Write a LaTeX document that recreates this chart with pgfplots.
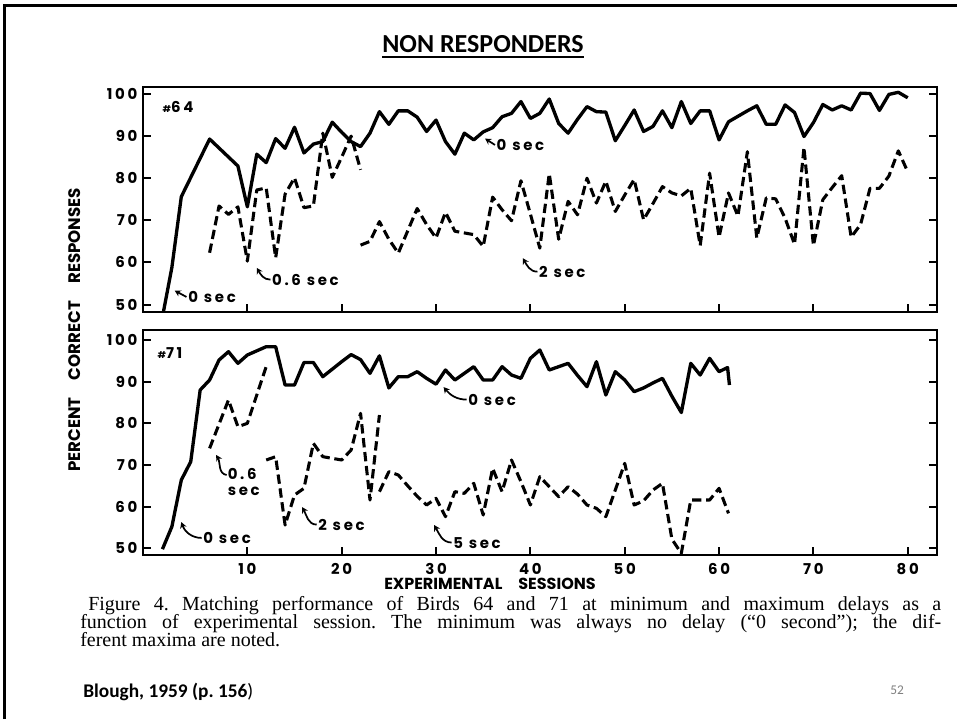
\documentclass[border=0pt]{standalone}
\usepackage{fontspec}
\usepackage{pgfplots}
\pgfplotsset{compat=1.18}
\usetikzlibrary{arrows.meta}
\setmainfont{Liberation Serif}
\newfontfamily\calibri{Carlito}
\newfontfamily\lab{Poppins}[LetterSpace=18]
\newfontfamily\labn{Poppins}
\newcommand\labf{\lab\bfseries\fontsize{11.2}{12}\selectfont}
\frenchspacing

\tikzset{
  lbl/.style={font=\labf, inner sep=0pt},
  arr/.style={line width=1.3pt, -{Stealth[length=4.5pt,width=5pt]}},
}
\pgfplotsset{
  panel/.style={
    scale only axis, width=595.5pt, height=168.75pt,
    xmin=-1.06, xmax=83.1,
    axis line style={line width=1.5pt},
    tick align=inside, major tick length=6pt,
    major tick style={black, line width=1.5pt},
    xtick={10,20,30,40,50,60,70,80}, ytick={50,60,70,80,90,100},
    yticklabels={50,60,70,80,90,100},
    xtick pos=bottom,
    yticklabel style={font=\labf, anchor=east, inner sep=0pt, xshift=-4pt},
    xticklabel style={font=\labf, anchor=north, inner sep=0pt, yshift=-6pt},
    clip=true,
  },
  solidline/.style={black, line width=2.5pt, line join=round, mark=none},
  dashline/.style={black, line width=2.3pt, line join=round, mark=none, dash pattern=on 7pt off 3.5pt},
}

\begin{document}
\begin{tikzpicture}
\path[use as bounding box] (0,0) rectangle (717.75pt,-539.25pt);
\fill[white] (0,0) rectangle (717.75pt,-539.25pt);
\begin{scope}[x=0.75pt,y=-0.75pt]
  \draw[line width=2.25pt] (4,719) -- (4,5) -- (957,5);
  % title
  \node[anchor=base, inner sep=0pt, font=\calibri\bfseries\fontsize{19.5}{22}\selectfont] (T) at (483,52.5) {NON RESPONDERS};
  \draw[line width=1.5pt] ([yshift=-3pt]T.base west) -- ([yshift=-3pt]T.base east);
  % axis labels
  \node[rotate=90, inner sep=0pt, font=\labn\bfseries\fontsize{12.5}{14}\selectfont] at (75,330) {PERCENT\hspace{13pt}CORRECT\hspace{13pt}RESPONSES};
  \node[inner sep=0pt, font=\labn\bfseries\fontsize{12}{14}\selectfont] at (490,584) {EXPERIMENTAL\hspace{12pt}SESSIONS};
  % caption
  \node[anchor=base west, inner sep=0pt, font=\fontsize{15}{15}\selectfont] at (88,610) {\makebox[639.75pt][s]{Figure 4. Matching performance of Birds 64 and 71 at minimum and maximum delays as a}};
  \node[anchor=base west, inner sep=0pt, font=\fontsize{15}{15}\selectfont] at (80,628) {\makebox[645.75pt][s]{function of experimental session. The minimum was always no delay (``0 second''); the dif-}};
  \node[anchor=base west, inner sep=0pt, font=\fontsize{15}{15}\selectfont] at (80,646) {ferent maxima are noted.};
  % citation
  \node[anchor=base west, inner sep=0pt, font=\calibri\fontsize{14.5}{16}\selectfont] at (83,697) {\textbf{Blough, 1959 (p. 156}{)}};
  \node[anchor=base, inner sep=0pt, font=\calibri\fontsize{10}{12}\selectfont, text=black!50] at (897,694) {52};
\end{scope}

% ---------------- Bird 64 ----------------
\begin{axis}[panel, at={(107.25pt,-234pt)}, anchor=south west, ymin=48.22, ymax=101.66, xticklabels={}]
\addplot[solidline] coordinates {
(1,47) (2,58.8) (3,75.6) (6,89.3) (9,82.9) (10,73.2) (11,85.7) (12,83.7) (13,89.4) (14,87.1)
(15,92.1) (16,86) (17,88.1) (18,88.7) (19,93.3) (20,90.9) (21,88.7) (22,87.5) (23,90.7) (24,95.8)
(25,92.8) (26,96) (27,96) (28,94.5) (29,91.1) (30,93.8) (31,88.7) (32,85.7) (33,90.7) (34,89.1)
(35,91) (36,92) (37,94.6) (38,95.4) (39,98.2) (40,94.2) (41,95.4) (42,98.8) (43,93) (44,90.7)
(45,94) (46,97) (47,95.8) (48,95.7) (49,88.9) (50,92.5) (51,96.2) (52,91.1) (53,92.3) (54,96)
(55,92) (56,98.2) (57,93) (58,96) (59,96) (60,89.1) (61,93.4) (62,94.7) (63,96) (64,97.2)
(65,92.8) (66,92.8) (67,97.4) (68,95.6) (69,89.9) (70,93.2) (71,97.5) (72,96.2) (73,97.2) (74,96.2)
(75,100.2) (76,100.1) (77,96.1) (78,99.9) (79,100.4) (80,99.1)
};
\addplot[dashline] coordinates {
(6,62.3) (7,73.4) (8,71.4) (9,73.2) (10,60.3) (11,77.2) (12,77.7) (13,61.1) (14,76.2) (15,80.1)
(16,73) (17,73.4) (18,90.7) (19,80.2) (20,85) (21,90) (22,82)
};
\addplot[dashline] coordinates {
(22,64.1) (23,65) (24,69.7) (25,65.5) (26,62.2) (27,67.5) (28,72.8) (29,69) (30,65.8) (31,71.9)
(32,67.4) (33,67) (34,66.6) (35,63.8) (36,75.5) (37,72.5) (38,69.9) (39,79.4) (40,71.5) (41,63.4)
(42,81.1) (43,65.5) (44,74.5) (45,71.3) (46,80) (47,74.1) (48,79.3) (49,72.1) (50,76) (51,79.7)
(52,70.1) (53,74) (54,78) (55,76.5) (56,75.8) (57,77.6) (58,64) (59,81.2) (60,66) (61,76.5)
(62,71) (63,86.3) (64,65.8) (65,75.3) (66,75.1) (67,70.5) (68,64.3) (69,87.3) (70,64) (71,74.9)
(72,77.8) (73,80.6) (74,66) (75,69) (76,77.6) (77,77.6) (78,80.5) (79,86.5) (80,81.5)
};
\node[lbl] at (axis cs:2.65,96.9) {{\fontsize{7}{7}\selectfont\#}64};
\node[lbl, anchor=west] at (axis cs:3.71,51.8) {0 sec};
\draw[arr] (axis cs:3.55,51.8) -- (axis cs:2.3,53.3);
\node[lbl, anchor=west] at (axis cs:12.6,55.8) {0.6 sec};
\draw[arr] (axis cs:12.45,55.9) to[out=180,in=-60] (axis cs:11.0,58.7);
\node[lbl, anchor=west] at (axis cs:36.4,87.9) {0 sec};
\draw[arr] (axis cs:36.25,87.9) -- (axis cs:35.2,89.4);
\node[lbl, anchor=west] at (axis cs:40.9,57.7) {2 sec};
\draw[arr] (axis cs:40.75,57.8) to[out=180,in=-60] (axis cs:39.2,61);
\end{axis}

% ---------------- Bird 71 ----------------
\begin{axis}[panel, at={(107.25pt,-416.25pt)}, anchor=south west, ymin=48.4, ymax=102.4,
  xticklabels={10,20,30,40,50,60,70,80}]
\addplot[solidline] coordinates {
(1,49.8) (2,55.2) (3,66.4) (4,70.8) (5,88) (6,90.4) (7,95.2) (8,97.2) (9,94.4) (10,96.4)
(11,97.4) (12,98.4) (13,98.4) (14,89.2) (15,89.2) (16,94.6) (17,94.6) (18,91.2) (19,93) (20,94.8)
(21,96.5) (22,95.3) (23,92) (24,96.2) (25,88.5) (26,91.2) (27,91.2) (28,92.4) (29,90.8) (30,89.4)
(31,92.8) (32,90.4) (33,92) (34,93.6) (35,90.4) (36,90.4) (37,93.6) (38,91.6) (39,90.8) (40,95.6)
(41,97.6) (42,92.8) (43,93.6) (44,94.4) (45,91.5) (46,88.8) (47,94.8) (48,86.8) (49,92.4) (50,90.4)
(51,87.6) (52,88.5) (53,89.7) (54,90.8) (55,86.5) (56,82.6) (57,94.4) (58,91.6) (59,95.6) (60,92.4)
(60.9,93.4) (61.1,89.2)
};
\addplot[dashline] coordinates {
(6,74) (7,79.8) (8,85.6) (9,79.2) (10,80) (11,86.8) (12,93.6)
};
\addplot[dashline] coordinates {
(12,71.2) (13,72) (14,55.6) (15,62.8) (16,64.4) (17,75.2) (18,72) (19,71.6) (20,71.2) (21,73.6)
(22,82.4) (23,61.6) (24,82)
};
\addplot[dashline] coordinates {
(24,63.6) (25,68.4) (26,67.6) (27,65) (28,62.5) (29,60.4) (30,62) (31,57.6) (32,63.6) (33,63.2)
(34,65.6) (35,58) (36,69.2) (37,63.6) (38,71.2) (39,66) (40,60.4) (41,67.2) (42,64.8) (43,62.4)
(44,64.8) (45,63) (46,60.4) (47,59.6) (48,57.6) (49,64) (50,70.4) (51,60.4) (52,61.4) (53,64)
(54,65.6) (55,52.2) (56,48.8) (57,61.6) (58,61.6) (59,61.6) (60,64.4) (61,58.4)
};
\node[lbl] at (axis cs:1.8,96.9) {{\fontsize{7}{7}\selectfont\#}71};
\node[lbl, anchor=west] at (axis cs:5.3,52.5) {0 sec};
\draw[arr] (axis cs:5.15,52.5) to[out=180,in=-70] (axis cs:3.0,56.3);
\node[lbl, anchor=north west, align=left, font=\lab\bfseries\fontsize{11.2}{12}\selectfont] at (axis cs:7.9,69.3) {0.6\\sec};
\draw[arr] (axis cs:7.8,67.6) to[out=170,in=-60] (axis cs:6.7,72.4);
\node[lbl, anchor=west] at (axis cs:17.5,55.6) {2 sec};
\draw[arr] (axis cs:17.35,55.7) to[out=180,in=-60] (axis cs:15.8,59.9);
\node[lbl, anchor=west] at (axis cs:33.4,85.6) {0 sec};
\draw[arr] (axis cs:33.25,85.7) to[out=180,in=-50] (axis cs:30.8,88.7);
\node[lbl, anchor=west] at (axis cs:31.8,51.3) {5 sec};
\draw[arr] (axis cs:31.65,51.4) to[out=180,in=-60] (axis cs:29.8,55.6);
\end{axis}
\end{tikzpicture}
\end{document}
